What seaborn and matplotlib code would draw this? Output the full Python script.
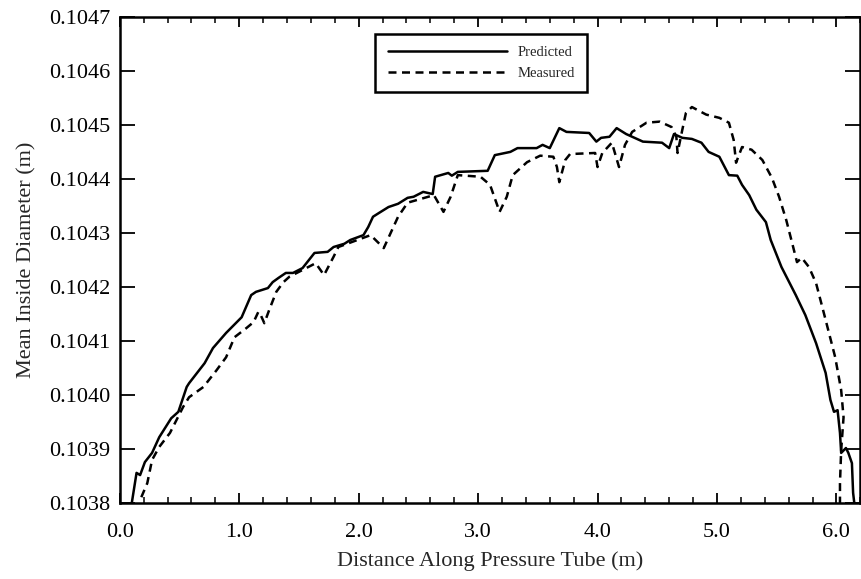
import matplotlib
matplotlib.use("Agg")
import matplotlib.pyplot as plt
from matplotlib.ticker import MultipleLocator, FormatStrFormatter
import seaborn as sns

# distance along tube (m) and mean inside diameter (m)
dist_pred = [0.10, 0.14, 0.17, 0.21, 0.27, 0.33, 0.43, 0.49, 0.56, 0.58,
             0.71, 0.78, 0.89, 1.02, 1.10, 1.14, 1.24, 1.28, 1.33, 1.39,
             1.45, 1.53, 1.63, 1.74, 1.79, 1.88, 1.93, 2.04, 2.08, 2.12,
             2.17, 2.25, 2.33, 2.41, 2.46, 2.54, 2.62, 2.64, 2.75, 2.78,
             2.83, 3.08, 3.14, 3.27, 3.33, 3.49, 3.54, 3.60, 3.68, 3.74,
             3.93, 3.99, 4.03, 4.10, 4.16, 4.24, 4.29, 4.38, 4.54, 4.60,
             4.64, 4.71, 4.79, 4.87, 4.93, 5.02, 5.10, 5.17, 5.21, 5.27,
             5.33, 5.41, 5.45, 5.54, 5.66, 5.74, 5.83, 5.91, 5.95, 5.98,
             6.01, 6.03, 6.04, 6.08, 6.10, 6.13, 6.14, 6.15]
diam_pred = [0.103800, 0.103856, 0.103852, 0.103876, 0.103893, 0.103922, 0.103957, 0.103969, 0.104015, 0.104022,
             0.104059, 0.104087, 0.104115, 0.104144, 0.104185, 0.104191, 0.104198, 0.104209, 0.104217, 0.104226,
             0.104226, 0.104235, 0.104263, 0.104265, 0.104274, 0.104280, 0.104287, 0.104296, 0.104311, 0.104330,
             0.104337, 0.104348, 0.104354, 0.104365, 0.104367, 0.104376, 0.104372, 0.104404, 0.104411, 0.104406,
             0.104413, 0.104415, 0.104444, 0.104450, 0.104457, 0.104457, 0.104463, 0.104457, 0.104494, 0.104487,
             0.104485, 0.104469, 0.104476, 0.104478, 0.104494, 0.104483, 0.104478, 0.104469, 0.104467, 0.104457,
             0.104483, 0.104476, 0.104474, 0.104467, 0.104450, 0.104441, 0.104407, 0.104406, 0.104389, 0.104370,
             0.104343, 0.104320, 0.104287, 0.104237, 0.104185, 0.104148, 0.104096, 0.104041, 0.103991, 0.103969,
             0.103972, 0.103930, 0.103893, 0.103902, 0.103893, 0.103874, 0.103819, 0.103800]

dist_meas = [0.18, 0.23, 0.27, 0.33, 0.42, 0.53, 0.58, 0.70, 0.81, 0.89,
             0.96, 1.06, 1.12, 1.16, 1.18, 1.21, 1.25, 1.31, 1.37, 1.42,
             1.64, 1.71, 1.79, 1.83, 2.10, 2.21, 2.33, 2.41, 2.63, 2.71,
             2.77, 2.83, 3.02, 3.10, 3.18, 3.24, 3.29, 3.41, 3.52, 3.63,
             3.66, 3.68, 3.73, 3.77, 3.98, 4.00, 4.04, 4.12, 4.18, 4.23,
             4.29, 4.41, 4.52, 4.62, 4.66, 4.67, 4.71, 4.74, 4.79, 4.91,
             5.02, 5.10, 5.14, 5.16, 5.21, 5.29, 5.38, 5.46, 5.52, 5.58,
             5.63, 5.67, 5.71, 5.77, 5.83, 5.91, 5.99, 6.04, 6.06, 6.04,
             6.03, 6.03]
diam_meas = [0.103811, 0.103837, 0.103880, 0.103904, 0.103930, 0.103978, 0.103996, 0.104015, 0.104046, 0.104070,
             0.104107, 0.104124, 0.104135, 0.104154, 0.104148, 0.104133, 0.104157, 0.104191, 0.104209, 0.104219,
             0.104244, 0.104222, 0.104256, 0.104274, 0.104296, 0.104272, 0.104330, 0.104356, 0.104370, 0.104339,
             0.104367, 0.104407, 0.104404, 0.104389, 0.104339, 0.104367, 0.104407, 0.104431, 0.104443, 0.104441,
             0.104422, 0.104394, 0.104435, 0.104446, 0.104448, 0.104422, 0.104448, 0.104467, 0.104422, 0.104463,
             0.104487, 0.104504, 0.104506, 0.104496, 0.104478, 0.104448, 0.104491, 0.104522, 0.104533, 0.104519,
             0.104513, 0.104504, 0.104472, 0.104430, 0.104459, 0.104454, 0.104435, 0.104402, 0.104367, 0.104324,
             0.104281, 0.104246, 0.104254, 0.104237, 0.104207, 0.104139, 0.104070, 0.104009, 0.103959, 0.103898,
             0.103837, 0.103800]

sns.set_style("ticks")
plt.rcParams["font.family"] = ["Liberation Serif", "DejaVu Serif"]

fig = plt.figure(figsize=(8.62, 5.79), dpi=100)
ax = fig.add_axes([0.139, 0.131, 0.859, 0.840])

sns.lineplot(x=dist_pred, y=diam_pred, sort=False, estimator=None, ax=ax,
             color="black", linewidth=1.8, label="Predicted")
sns.lineplot(x=dist_meas, y=diam_meas, sort=False, estimator=None, ax=ax,
             color="black", linewidth=1.8, dashes=(3.2, 2.2), label="Measured")

ax.set_xlim(0.0, 6.2)
ax.set_ylim(0.1038, 0.1047)
ax.xaxis.set_major_locator(MultipleLocator(1.0))
ax.xaxis.set_minor_locator(MultipleLocator(0.2))
ax.yaxis.set_major_locator(MultipleLocator(0.0001))
ax.xaxis.set_major_formatter(FormatStrFormatter("%.1f"))
ax.yaxis.set_major_formatter(FormatStrFormatter("%.4f"))

ax.tick_params(which="both", direction="in", top=True, right=True, color="black",
               labelsize=16, labelcolor="black")
ax.tick_params(axis="y", which="major", length=11, width=1.3, pad=7)
ax.tick_params(axis="x", which="major", length=7, width=1.3, pad=14)
ax.tick_params(axis="x", which="minor", length=4, width=1.1)
for side in ["left", "right", "top", "bottom"]:
    ax.spines[side].set_color("black")
    ax.spines[side].set_linewidth(1.8)

ax.set_xlabel("Distance Along Pressure Tube (m)", fontsize=16, labelpad=7)
ax.set_ylabel("Mean Inside Diameter (m)", fontsize=16, labelpad=9)

leg = ax.legend(loc="upper left", bbox_to_anchor=(0.345, 0.965), borderaxespad=0,
                fontsize=10.5, handlelength=8.2, handletextpad=0.7, borderpad=0.85,
                labelspacing=0.5, fancybox=False, framealpha=1, edgecolor="black")
leg.get_frame().set_linewidth(1.8)

fig.savefig("out.png", dpi=100)
